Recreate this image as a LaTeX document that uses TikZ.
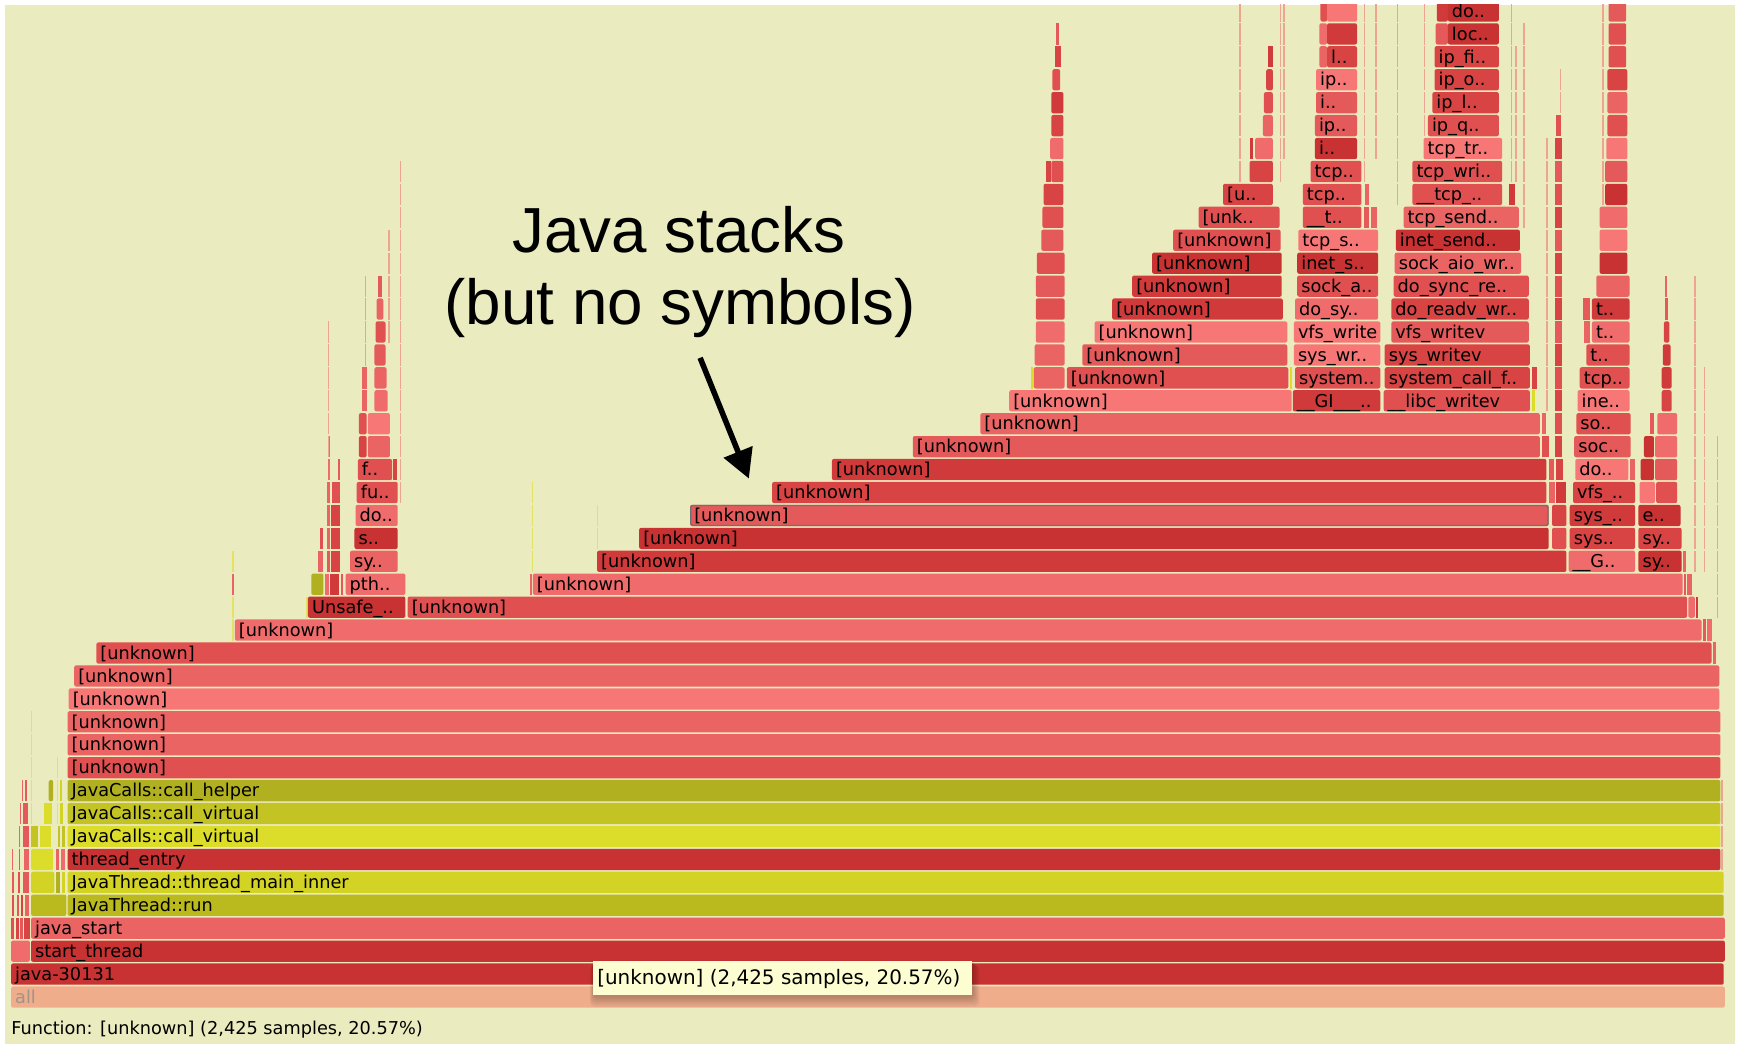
\documentclass[tikz,border=0pt]{standalone}
\usepackage{fontspec}
\setmainfont{DejaVu Sans}
\newfontfamily\headfont{Liberation Sans}
\usetikzlibrary{arrows.meta}

\definecolor{bg}{HTML}{EAEBBF}
\definecolor{c1}{HTML}{C83232}
\definecolor{c2}{HTML}{D03A3A}
\definecolor{c3}{HTML}{D84444}
\definecolor{c4}{HTML}{E05050}
\definecolor{c5}{HTML}{E45A5A}
\definecolor{c6}{HTML}{EA6464}
\definecolor{c7}{HTML}{F06C6C}
\definecolor{c8}{HTML}{F77777}
\definecolor{ya}{HTML}{B0B021}
\definecolor{yb}{HTML}{BABA1F}
\definecolor{yc}{HTML}{C3C323}
\definecolor{yd}{HTML}{D3D326}
\definecolor{ye}{HTML}{DCDC2A}
\definecolor{allc}{HTML}{F0AD8C}
\definecolor{allt}{HTML}{A09388}
\definecolor{tipc}{HTML}{FDFDD2}
\definecolor{selc}{HTML}{707070}
\colorlet{ln}{c7!55!bg}
\colorlet{lny}{ye!60!bg}

\newcounter{fc}
% centre of stack level #1 (y grows downwards)
\newcommand\ry[1]{900-20.7*(#1)}
% frame without text
\newcommand\fb[4]{\fill[#4,rounded corners=1.8pt] ({#2},{\ry{#1}-9.6}) rectangle ({#3},{\ry{#1}+9.6});}
% very narrow frame
\newcommand\fs[4]{\fill[#4] ({#2},{\ry{#1}-9.6}) rectangle ({#3},{\ry{#1}+9.6});}
% frame with its function name
\newcommand\fl[5]{\fb{#1}{#2}{#3}{#4}\stepcounter{fc}%
  \node[lbl] (f\arabic{fc}) at ({#2+3.5},{\ry{#1}+5.6}) {#5};}
% column of narrow frames over levels #3..#4
\newcommand\ft[5]{\foreach \r in {#3,...,#4}{\fs{\r}{#1}{#2}{#5}}}

\begin{document}
\begin{tikzpicture}[x=1pt,y=-1pt,
  lbl/.style={anchor=base west,inner sep=0pt,font=\fontsize{16}{19}\selectfont},
  headline/.style={anchor=base,inner sep=0pt,font=\headfont\fontsize{57.5}{62}\selectfont}]
\useasboundingbox (0,0) rectangle (1568,942);
\fill[white] (0,0) rectangle (1568,942);
\fill[bg] (4.5,4.5) rectangle (1566,942);

\begin{scope}
\clip (4.5,4.5) rectangle (1566,942);

% base of the stacks
\fl{0}{10}{1557}{allc}{\textcolor{allt}{all}}
\fl{1}{10}{1556}{c1}{java-30131}
\fb{2}{10}{27}{c7}
\fl{2}{28}{1557}{c1}{start\_thread}
\fs{3}{10}{13}{c4}\fs{3}{14}{17}{c3}\fs{3}{18}{21}{c5}\fs{3}{22}{27}{c3}
\fl{3}{28}{1557}{c6}{java\_start}
\fs{4}{11}{13}{c4}\fs{4}{15}{17}{c5}\fs{4}{19}{21}{c3}\fs{4}{23}{26}{c6}
\fb{4}{28}{60}{yb}
\fl{4}{61}{1556}{yb}{JavaThread::run}
\fs{5}{11}{13}{c5}\fs{5}{16}{18}{c4}\fs{5}{21}{26}{c5}\fb{5}{28}{49}{yd}\fs{5}{51}{54}{ya}\fs{5}{56}{59}{yd}
\fl{5}{61}{1556}{yd}{JavaThread::thread\_main\_inner}
\fs{6}{11}{12}{c6}\fs{6}{17}{18}{c5}\fs{6}{22}{26}{c6}\fb{6}{28}{48}{ye}\fs{6}{51}{53}{c6}\fs{6}{55}{59}{c7}
\fl{6}{61}{1553}{c1}{thread\_entry}
\fs{7}{17}{18}{c6}\fs{7}{21}{26}{c5}\fs{7}{28}{34}{yc}\fs{7}{36}{46}{ye}\fs{7}{52}{54}{yc}\fs{7}{56}{59}{yc}
\fl{7}{61}{1553}{ye}{JavaCalls::call\_virtual}
\fs{8}{18}{19}{c6}\fs{8}{21}{25}{c5}\fs{8}{40}{47}{ye}\fs{8}{54}{57}{yd}
\fl{8}{61}{1553}{yc}{JavaCalls::call\_virtual}
\fs{9}{20}{21}{c6}\fs{9}{23}{24}{c5}\fb{9}{44}{48}{ya}\fs{9}{54}{56}{yd}
\fl{9}{61}{1553}{ya}{JavaCalls::call\_helper}
\ft{27.6}{28.8}{8}{12}{lny}\ft{51.3}{52.5}{8}{10}{lny}
\foreach \k in {6,...,9}{\fs{\k}{1553.5}{1555}{ln}}

% [unknown] levels
\fl{10}{61}{1553}{c4}{[unknown]}
\fl{11}{61}{1553}{c6}{[unknown]}
\fl{12}{61}{1553}{c6}{[unknown]}
\fl{13}{62}{1552}{c8}{[unknown]}
\fl{14}{67}{1552}{c6}{[unknown]}
\fl{15}{87}{1545}{c4}{[unknown]}\fs{15}{1546}{1549}{c6}
\fl{16}{212}{1536}{c7}{[unknown]}\fs{16}{1537}{1540}{c5}\fs{16}{1541}{1545}{c7}
\ft{209.6}{211}{16}{19}{lny}\fs{18}{209.6}{211}{c6}
\fs{17}{276.5}{277.6}{lny}
\fl{17}{278}{366}{c1}{Unsafe\_..}
\fl{17}{368}{1523}{c4}{[unknown]}\fb{17}{1524}{1530}{c7}\fs{17}{1531}{1533}{c2}
\fb{18}{281}{292}{ya}\fs{18}{293}{297}{c7}\fs{18}{298}{306}{c2}\fs{18}{308}{310}{c5}
\fl{18}{312}{366}{c7}{pth..}
\fs{18}{478}{480}{c6}
\fl{18}{481}{1519}{c7}{[unknown]}\fs{18}{1520}{1522}{c5}\fs{18}{1523}{1527}{c6}
\ft{480}{481.3}{19}{22}{lny}\ft{538.6}{539.8}{20}{21}{lny}

\fs{19}{287}{292}{c6}\fs{19}{295}{298}{c5}\fs{19}{299}{307}{c3}
\fl{19}{316}{359}{c6}{sy..}
\fl{19}{539}{1414}{c2}{[unknown]}
\fl{19}{1416}{1476}{c7}{\_\_G..}
\fl{19}{1479}{1518}{c1}{sy..}\fs{19}{1519}{1522}{c6}

\fs{20}{289}{292}{c4}\fs{20}{295}{298}{c6}\fs{20}{299}{307}{c3}
\fl{20}{320}{359}{c1}{s..}
\fl{20}{577}{1398}{c1}{[unknown]}\fb{20}{1401}{1414}{c4}
\fl{20}{1417}{1476}{c3}{sys..}
\fl{20}{1479}{1518}{c3}{sy..}

\fs{21}{295}{298}{c6}\fs{21}{299}{307}{c3}
\fl{21}{321}{359}{c7}{do..}
\fb{21}{623}{1398}{c5}
\draw[selc,line width=1.2pt,rounded corners=1.8pt] (623.6,{\ry{21}-9}) rectangle (1397.4,{\ry{21}+9});
\node[lbl] (sel) at (626.5,{\ry{21}+5.6}) {[unknown]};
\fb{21}{1401}{1414}{c3}
\fl{21}{1417}{1476}{c2}{sys\_..}
\fl{21}{1479}{1517}{c1}{e..}

\fs{22}{295}{298}{c6}\fs{22}{300}{307}{c4}
\fl{22}{322}{359}{c4}{fu..}
\fl{22}{697}{1396}{c3}{[unknown]}\fs{22}{1398}{1404}{c6}\fs{22}{1405}{1414}{c2}
\fl{22}{1420}{1476}{c3}{vfs\_..}
\fb{22}{1480}{1494}{c8}\fb{22}{1495}{1514}{c4}

\fs{23}{296}{298}{c7}\fs{23}{305}{307}{c5}
\fl{23}{323}{354}{c4}{f..}\fs{23}{354.5}{358}{c3}
\fl{23}{751}{1396}{c2}{[unknown]}\fs{23}{1398}{1403}{c5}\fs{23}{1405}{1411}{c3}
\fl{23}{1422}{1470}{c8}{do..}\fs{23}{1471}{1476}{c6}
\fb{23}{1481}{1493}{c1}\fb{23}{1494}{1514}{c5}

\fs{24}{296}{298}{c7}\fb{24}{324}{331}{c3}\fb{24}{332}{352}{c6}
\fl{24}{824}{1390}{c5}{[unknown]}\fs{24}{1392}{1398}{c4}\fs{24}{1404}{1410}{c3}
\fl{24}{1421}{1472}{c5}{soc..}
\fb{24}{1484}{1493}{c1}\fb{24}{1494}{1514}{c7}

\fb{25}{324}{331}{c4}\fb{25}{332}{352}{c8}
\fl{25}{885}{1390}{c6}{[unknown]}\fs{25}{1392}{1396}{c6}\fs{25}{1404}{1410}{c4}
\fl{25}{1423}{1472}{c4}{so..}
\fs{25}{1489}{1493}{c5}\fb{25}{1496}{1514}{c7}

% upper levels: [unknown] staircase and the kernel write path
\fs{26}{327}{331}{c6}\fb{26}{338}{350}{c7}
\fl{26}{911}{1166}{c8}{[unknown]}
\fl{26}{1167}{1246}{c2}{\_\_GI\_\_\_..}
\fl{26}{1249}{1381}{c4}{\_\_libc\_writev}\fs{26}{1383}{1386}{ye}
\fs{26}{1404}{1410}{c3}
\fl{26}{1424}{1471}{c8}{ine..}
\fb{26}{1500}{1509}{c3}

\fs{27}{327}{331}{c6}\fb{27}{338}{349}{c6}
\fs{27}{931}{932.5}{ye}\fb{27}{933}{961}{c6}
\fl{27}{963}{1163}{c4}{[unknown]}\fs{27}{1164.5}{1166}{ye}
\fl{27}{1169}{1246}{c4}{system..}
\fl{27}{1250}{1381}{c3}{system\_call\_f..}\fs{27}{1383}{1387}{c3}
\fs{27}{1404}{1410}{c4}
\fl{27}{1426}{1471}{c4}{tcp..}
\fb{27}{1500}{1509}{c2}

\fb{28}{338}{348}{c5}
\fb{28}{934}{961}{c6}
\fl{28}{977}{1162}{c5}{[unknown]}
\fl{28}{1168}{1246}{c8}{sys\_wr..}
\fl{28}{1250}{1381}{c3}{sys\_writev}
\fs{28}{1404}{1410}{c3}
\fl{28}{1432}{1471}{c4}{t..}
\fb{28}{1501}{1508}{c2}

\fb{29}{339}{348}{c4}
\fb{29}{935}{961}{c7}
\fl{29}{988}{1162}{c8}{[unknown]}
\fl{29}{1168}{1246}{c8}{vfs\_write}
\fl{29}{1256}{1380}{c5}{vfs\_writev}
\fs{29}{1404}{1410}{c5}\fs{29}{1430}{1435}{c6}
\fl{29}{1437}{1471}{c7}{t..}
\fb{29}{1502}{1507}{c3}

\fb{30}{340}{346}{c6}
\fb{30}{935}{961}{c4}
\fl{30}{1004}{1158}{c2}{[unknown]}
\fl{30}{1169}{1244}{c7}{do\_sy..}
\fl{30}{1256}{1380}{c3}{do\_readv\_wr..}
\fs{30}{1404}{1410}{c3}\fs{30}{1429}{1435}{c5}
\fl{30}{1437}{1471}{c2}{t..}
\fs{30}{1503}{1506}{c5}

\fs{31}{341}{345}{c5}
\fb{31}{935}{961}{c5}
\fl{31}{1022}{1157}{c2}{[unknown]}
\fl{31}{1171}{1244}{c4}{sock\_a..}
\fl{31}{1258}{1380}{c4}{do\_sync\_re..}
\fs{31}{1404}{1410}{c4}
\fb{31}{1441}{1471}{c6}
\fs{31}{1503}{1505}{c6}

\fb{32}{936}{961}{c4}
\fl{32}{1040}{1157}{c1}{[unknown]}
\fl{32}{1171}{1244}{c1}{inet\_s..}
\fl{32}{1259}{1373}{c6}{sock\_aio\_wr..}
\fs{32}{1404}{1410}{c3}
\fb{32}{1444}{1469}{c1}

\fb{33}{940}{960}{c5}
\fl{33}{1059}{1156}{c4}{[unknown]}
\fl{33}{1172}{1244}{c8}{tcp\_s..}
\fl{33}{1260}{1372}{c1}{inet\_send..}
\fs{33}{1404}{1410}{c5}
\fb{33}{1444}{1469}{c8}

\fb{34}{941}{960}{c4}
\fl{34}{1082}{1155}{c4}{[unk..}
\fl{34}{1176}{1229}{c4}{\_\_t..}\fs{34}{1231}{1236}{c5}\fs{34}{1238}{1243}{c6}
\fl{34}{1267}{1371}{c6}{tcp\_send..}
\fs{34}{1404}{1410}{c3}
\fb{34}{1444}{1469}{c7}

\fb{35}{942}{960}{c3}
\fl{35}{1104}{1149}{c3}{[u..}
\fl{35}{1176}{1229}{c4}{tcp..}\fs{35}{1232}{1236}{c6}
\fl{35}{1275}{1356}{c4}{\_\_tcp\_..}\fs{35}{1362}{1368}{c2}
\fs{35}{1404}{1410}{c4}
\fb{35}{1449}{1469}{c1}

\fs{36}{944}{948.5}{c3}\fb{36}{949}{960}{c4}
\fb{36}{1128}{1149}{c3}
\fl{36}{1183}{1229}{c4}{tcp..}
\fl{36}{1275}{1356}{c4}{tcp\_wri..}
\fs{36}{1404}{1410}{c5}
\fb{36}{1449}{1469}{c5}

\fb{37}{948}{960}{c7}
\fs{37}{1128}{1131}{c2}\fb{37}{1133}{1149}{c7}
\fl{37}{1187}{1225}{c1}{i..}
\fl{37}{1285}{1356}{c8}{tcp\_tr..}
\fs{37}{1404}{1410}{c3}
\fb{37}{1450}{1469}{c8}

\fb{38}{949}{960}{c3}
\fb{38}{1140}{1149}{c6}
\fl{38}{1187}{1225}{c5}{ip..}
\fl{38}{1289}{1353}{c4}{ip\_q..}
\fs{38}{1405}{1409}{c4}
\fb{38}{1451}{1469}{c4}

\fb{39}{949}{960}{c2}
\fb{39}{1141}{1149}{c4}
\fl{39}{1188}{1225}{c5}{i..}
\fl{39}{1293}{1353}{c3}{ip\_l..}
\fb{39}{1451}{1469}{c6}

\fb{40}{950}{957}{c4}
\fb{40}{1143}{1149}{c3}
\fl{40}{1188}{1225}{c8}{ip..}
\fl{40}{1295}{1353}{c3}{ip\_o..}
\fb{40}{1451}{1469}{c3}

\fs{41}{952}{958}{c3}
\fs{41}{1145}{1149}{c2}
\fb{41}{1191}{1198}{c6}\fl{41}{1198}{1225}{c3}{l..}
\fl{41}{1295}{1353}{c3}{ip\_fi..}
\fb{41}{1452}{1468}{c4}

\fs{42}{953}{956}{c5}
\fb{42}{1191}{1198}{c7}\fb{42}{1198}{1225}{c2}
\fb{42}{1296}{1307}{c5}\fl{42}{1307}{1353}{c1}{loc..}
\fb{42}{1452}{1468}{c4}

\fb{43}{1192}{1198}{c4}\fb{43}{1198}{1225}{c8}
\fb{43}{1297}{1307}{c2}\fl{43}{1307}{1353}{c1}{do..}
\fb{43}{1452}{1468}{c5}

% hairline frames
\ft{296}{297.2}{24}{29}{ln}
\ft{329.5}{330.7}{28}{31}{ln}
\ft{350.5}{351.7}{29}{33}{ln}
\ft{361}{362.2}{22}{36}{ln}
\ft{1396}{1397.2}{26}{37}{ln}
\ft{1408}{1409.2}{39}{40}{ln}
\ft{1118.6}{1119.8}{36}{43}{ln}
\ft{1155}{1156.2}{36}{43}{ln}
\ft{1158.5}{1159.7}{37}{43}{ln}
\ft{1231}{1232.2}{36}{43}{ln}
\ft{1241.5}{1242.7}{37}{43}{ln}
\ft{1261}{1262.2}{35}{43}{ln}
\ft{1285}{1286.2}{38}{43}{ln}
\ft{1364}{1365.2}{36}{43}{ln}
\ft{1368}{1369.2}{36}{41}{ln}
\ft{1375}{1376.2}{34}{42}{ln}
\ft{1446.5}{1447.7}{35}{43}{ln}
\ft{1529}{1531}{19}{31}{ln}
\ft{1538}{1539.5}{19}{27}{ln}
\ft{1549.5}{1550.8}{17}{24}{ln}
\end{scope}

% annotation
\node[headline] (t1) at (613,228) {Java stacks};
\node[headline] (t2) at (614,293) {(but no symbols)};
\coordinate (a0) at (632,323);
\coordinate (a1) at (676,432);
\draw[line width=5pt,-{Triangle[length=26pt,width=27pt]}] (a0) -- (a1);

% hover tooltip with its soft shadow
\foreach \k in {1,...,7}{
  \fill[black,opacity=0.035,rounded corners=4pt] ({536-0.5*\k},{866+0.8*\k}) rectangle ({878+0.9*\k},{899+1.4*\k});}
\node[fill=tipc,minimum width=342pt,minimum height=31pt,anchor=north west,inner sep=0pt] (tip) at (535,867) {};
\node[anchor=base west,inner sep=0pt,font=\fontsize{18}{21}\selectfont] (tiptext) at (539,888.5) {[unknown] (2,425 samples, 20.57\%)};

% status line
\node[anchor=base west,inner sep=0pt,font=\fontsize{16}{19}\selectfont] (fn) at (10,934) {Function: [unknown] (2,425 samples, 20.57\%)};
\end{tikzpicture}
\end{document}
